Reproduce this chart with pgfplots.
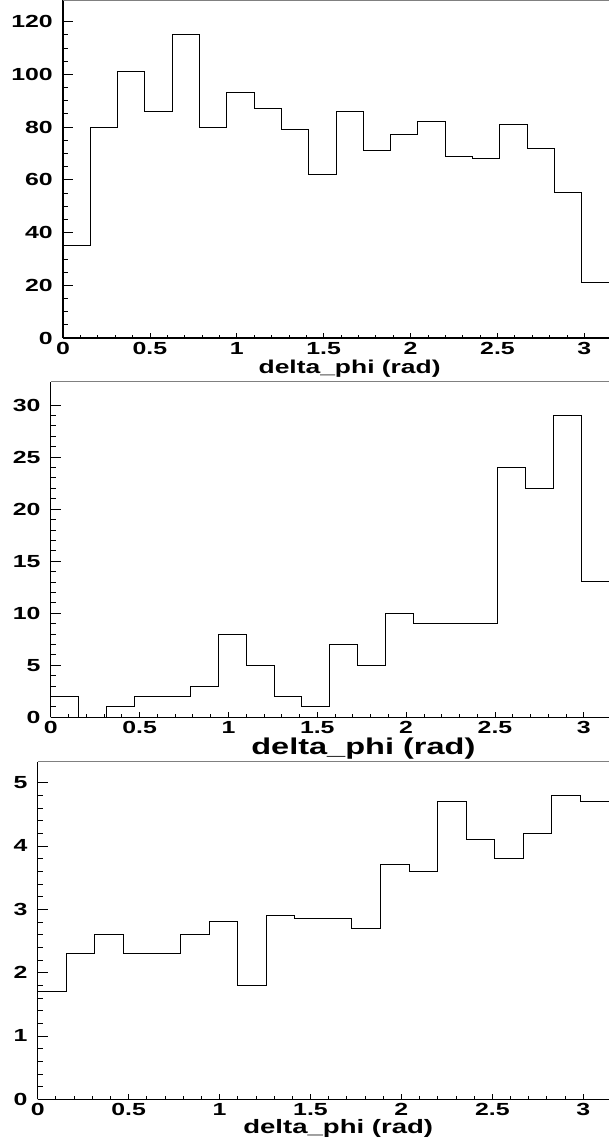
\documentclass[border=0pt]{standalone}
\usepackage{fontspec}
\setmainfont{Liberation Sans}[FakeStretch=1.42]
\usepackage{pgfplots}
\usepackage{pgfplotstable}
\pgfplotsset{compat=1.18}

% delta_phi histograms, 20 bins of width pi/20 (lower bin edge, content; last row closes the range)
\pgfplotstableread{
x        y
0        35
0.15708  80
0.31416  101
0.47124  86
0.62832  115
0.78540  80
0.94248  93
1.09956  87
1.25664  79
1.41372  62
1.57080  86
1.72788  71
1.88496  77
2.04204  82
2.19911  69
2.35619  68
2.51327  81
2.67035  72
2.82743  55
2.98451  21
3.14159  21
}\histA
\pgfplotstableread{
x        y
0        2
0.15708  0
0.31416  1
0.47124  2
0.62832  2
0.78540  3
0.94248  8
1.09956  5
1.25664  2
1.41372  1
1.57080  7
1.72788  5
1.88496  10
2.04204  9
2.19911  9
2.35619  9
2.51327  24
2.67035  22
2.82743  29
2.98451  13
3.14159  13
}\histB
\pgfplotstableread{
x        y
0        1.70
0.15708  2.30
0.31416  2.60
0.47124  2.30
0.62832  2.30
0.78540  2.60
0.94248  2.80
1.09956  1.80
1.25664  2.90
1.41372  2.85
1.57080  2.85
1.72788  2.70
1.88496  3.70
2.04204  3.60
2.19911  4.70
2.35619  4.10
2.51327  3.80
2.67035  4.20
2.82743  4.80
2.98451  4.70
3.14159  4.70
}\histC

\pgfplotsset{
  rootframe/.style={
    scale only axis, anchor=south west,
    xmin=0, xmax=3.14159,
    tick align=inside,
    every tick/.style={black, line width=0.8pt},
    axis line style={black, line width=1.5pt},
    /pgf/number format/assume math mode=true,
    ticklabel style={font=\bfseries\fontsize{17.5}{17.5}\selectfont},
  },
  % data, y axis and frame
  rooty/.style={
    rootframe,
    axis x line*=bottom, axis y line*=left,
    xtick=\empty,
    ymin=0,
    major tick length=10pt, minor tick length=5pt,
    yticklabel style={anchor=east, inner sep=0pt, xshift=-10pt},
  },
  % x ticks and title
  rootx/.style={
    rootframe,
    axis x line*=bottom, axis y line=none,
    ymin=0, ymax=1,
    xtick={0,0.5,1,1.5,2,2.5,3},
    minor x tick num=4,
    major tick length=5.5pt, minor tick length=3pt,
    xticklabel style={anchor=north, inner sep=0pt, yshift=-4pt},
    xlabel={\bfseries delta\_phi (rad)},
  },
  histline/.style={const plot, black, line width=1pt, mark=none},
}

\begin{document}
\begin{tikzpicture}
% ---- upper pad ----
\begin{axis}[rooty, at={(63pt,-338pt)}, width=546pt, height=338pt,
    ymax=128.2, ytick={0,20,...,120}, minor y tick num=3]
  \addplot[histline] table[x=x, y=y] {\histA};
  \draw[gray, line width=1pt] (rel axis cs:0,1) -- (rel axis cs:1,1);
\end{axis}
\begin{axis}[rootx, at={(63pt,-338pt)}, width=546pt, height=338pt,
    xlabel style={at={(axis description cs:0.525,0)}, anchor=center, yshift=-31pt,
      font=\fontsize{18.6}{18.6}\selectfont}]
\end{axis}
% ---- middle pad ----
\begin{axis}[rooty, at={(50.7pt,-717.3pt)}, width=558.3pt, height=335.8pt,
    ymax=32.26, ytick={0,5,...,30}, minor y tick num=4]
  \addplot[histline] table[x=x, y=y] {\histB};
  \draw[gray, line width=1pt] (rel axis cs:0,1) -- (rel axis cs:1,1);
\end{axis}
\begin{axis}[rootx, at={(50.7pt,-717.3pt)}, width=558.3pt, height=335.8pt,
    xlabel style={at={(axis description cs:0.56,0)}, anchor=center, yshift=-31.5pt,
      font=\fontsize{22.9}{22.9}\selectfont}]
\end{axis}
% ---- lower pad ----
\begin{axis}[rooty, at={(37.7pt,-1099.3pt)}, width=571.3pt, height=337.6pt,
    ymax=5.33, ytick={0,1,...,5}, minor y tick num=4]
  \addplot[histline] table[x=x, y=y] {\histC};
  \draw[gray, line width=1pt] (rel axis cs:0,1) -- (rel axis cs:1,1);
\end{axis}
\begin{axis}[rootx, at={(37.7pt,-1099.3pt)}, width=571.3pt, height=337.6pt,
    xlabel style={at={(axis description cs:0.526,0)}, anchor=center, yshift=-28.7pt,
      font=\fontsize{19.4}{19.4}\selectfont}]
\end{axis}
\pgfresetboundingbox
\useasboundingbox (0,0) rectangle (609pt,-1143pt);
\end{tikzpicture}
\end{document}
